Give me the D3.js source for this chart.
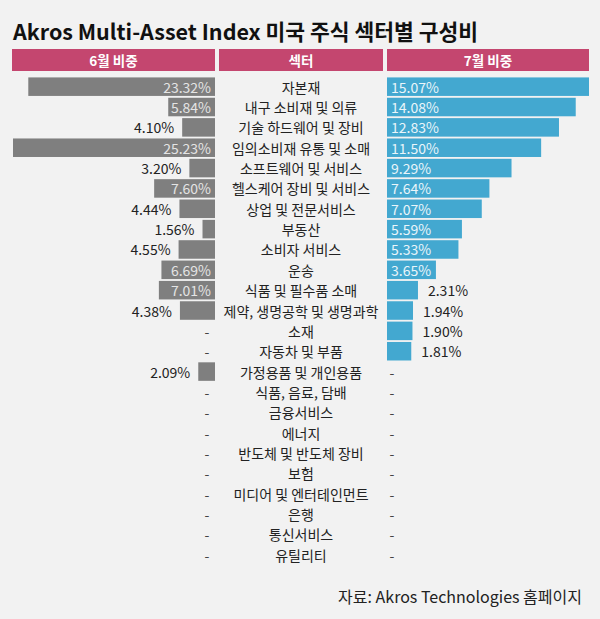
<!DOCTYPE html>
<html><head><meta charset="utf-8">
<script src="https://cdn.jsdelivr.net/npm/d3@7"></script>
<style>
html,body{margin:0;padding:0;background:#f2f2f2;}
svg{display:block;font-family:"Noto Sans CJK KR","Noto Sans",sans-serif;}
</style></head>
<body><svg id="c" width="600" height="619"></svg>
<script>
const title = "Akros Multi-Asset Index 미국 주식 섹터별 구성비";
const headers = ["6월 비중", "섹터", "7월 비중"];
const source = "자료: Akros Technologies 홈페이지";
const sectors = ["자본재","내구 소비재 및 의류","기술 하드웨어 및 장비","임의소비재 유통 및 소매","소프트웨어 및 서비스","헬스케어 장비 및 서비스","상업 및 전문서비스","부동산","소비자 서비스","운송","식품 및 필수품 소매","제약, 생명공학 및 생명과학","소재","자동차 및 부품","가정용품 및 개인용품","식품, 음료, 담배","금융서비스","에너지","반도체 및 반도체 장비","보험","미디어 및 엔터테인먼트","은행","통신서비스","유틸리티"];
const june = [23.32,5.84,4.10,25.23,3.20,7.60,4.44,1.56,4.55,6.69,7.01,4.38,null,null,2.09,null,null,null,null,null,null,null,null,null];
const july = [15.07,14.08,12.83,11.50,9.29,7.64,7.07,5.59,5.33,3.65,2.31,1.94,1.90,1.81,null,null,null,null,null,null,null,null,null,null];

const svg = d3.select("#c");
const fmt = v => v.toFixed(2) + "%";

svg.append("rect").attr("width",600).attr("height",619).attr("fill","#f2f2f2");

svg.append("text").attr("x",13).attr("y",40).attr("font-size",21.5).attr("font-weight",700)
  .attr("fill","#111").text(title);

const leftEdge = 215, rightStart = 387, barMax = 202, midX = 301;
const headerRects = [[12,215],[219,383],[387,589]];
headerRects.forEach((h,i)=>{
  svg.append("rect").attr("x",h[0]).attr("y",49).attr("width",h[1]-h[0]).attr("height",22)
    .attr("fill","#c4466f");
  svg.append("text").attr("x",(h[0]+h[1])/2).attr("y",65.5).attr("text-anchor","middle")
    .attr("font-size",13.5).attr("font-weight",700).attr("fill","#fff").text(headers[i]);
});

const y = d3.scaleBand().domain(sectors).range([76.5, 76.5 + 20.35*sectors.length]).paddingInner(0.09).paddingOuter(0.045);
const xL = d3.scaleLinear().domain([0, d3.max(june)]).range([0, barMax]);
const xR = d3.scaleLinear().domain([0, d3.max(july)]).range([0, barMax]);

const fs = 14;
const base = s => y(s) + y.bandwidth()/2 + 6;
svg.append("g").selectAll("text").data(sectors).join("text")
  .attr("x", midX).attr("y", d => base(d))
  .attr("text-anchor","middle").attr("font-size",fs).attr("fill","#222").text(d=>d);

const gl = svg.append("g");
sectors.forEach((s,i)=>{
  const v = june[i];
  const cy = base(s);
  if (v == null) {
    gl.append("text").attr("x",207).attr("y",cy).attr("text-anchor","middle").attr("font-size",fs).attr("fill","#444").text("-");
    return;
  }
  const w = xL(v);
  gl.append("rect").attr("x",leftEdge - w).attr("y",y(s)).attr("width",w).attr("height",y.bandwidth()).attr("fill","#7f7f7f");
  const t = gl.append("text").attr("font-size",fs).attr("y",cy).text(fmt(v));
  const tw = t.node().getComputedTextLength();
  if (tw + 6 < w) t.attr("x",leftEdge - 4).attr("text-anchor","end").attr("fill","#e4e4e4");
  else t.attr("x",leftEdge - w - 8).attr("text-anchor","end").attr("fill","#222");
});

const gr = svg.append("g");
sectors.forEach((s,i)=>{
  const v = july[i];
  const cy = base(s);
  if (v == null) {
    gr.append("text").attr("x",392).attr("y",cy).attr("text-anchor","middle").attr("font-size",fs).attr("fill","#444").text("-");
    return;
  }
  const w = xR(v);
  gr.append("rect").attr("x",rightStart).attr("y",y(s)).attr("width",w).attr("height",y.bandwidth()).attr("fill","#43a8d0");
  const t = gr.append("text").attr("font-size",fs).attr("y",cy).text(fmt(v));
  const tw = t.node().getComputedTextLength();
  if (tw + 6 < w) t.attr("x",rightStart + 4).attr("fill","#eaf5fa");
  else t.attr("x",rightStart + w + 10).attr("fill","#222");
});

svg.append("text").attr("x",582).attr("y",603).attr("text-anchor","end").attr("font-size",16)
  .attr("fill","#222").text(source);
</script></body></html>
